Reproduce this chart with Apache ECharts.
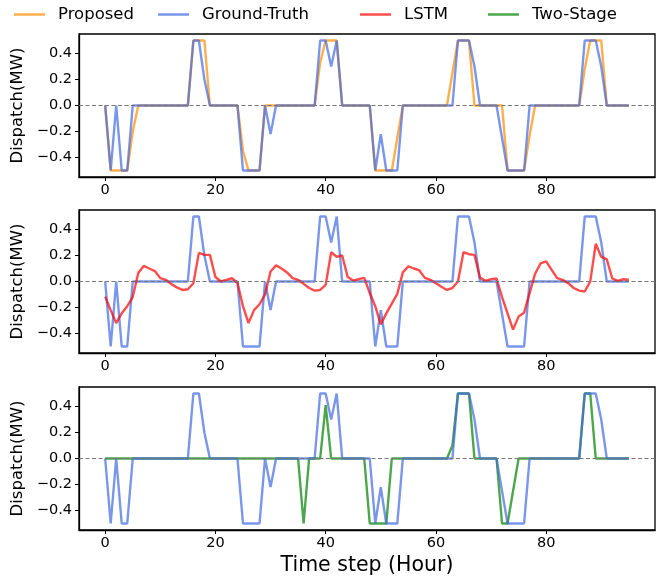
<!DOCTYPE html>
<html>
<head>
<meta charset="utf-8">
<script src="https://cdn.jsdelivr.net/npm/echarts@6/dist/echarts.min.js"></script>
<style>html,body{margin:0;padding:0;background:#fff}#c{width:662px;height:578px}</style>
</head>
<body>
<div id="c"></div>
<script>
const groundTruth = [0,-0.5,0,-0.5,-0.5,0,0,0,0,0, 0,0,0,0,0,0,0.5,0.5,0.2,0, 0,0,0,0,0,-0.5,-0.5,-0.5,-0.5,0, -0.22,0,0,0,0,0,0,0,0,0.5, 0.5,0.3,0.5,0,0,0,0,0,0,-0.5, -0.22,-0.5,-0.5,-0.5,0,0,0,0,0,0, 0,0,0,0,0.5,0.5,0.5,0.3,0,0, 0,0,-0.25,-0.5,-0.5,-0.5,-0.5,0,0,0, 0,0,0,0,0,0,0,0.5,0.5,0.5, 0.3,0,0,0,0,0];
const proposed = [0,-0.5,-0.5,-0.5,-0.5,-0.2,0,0,0,0, 0,0,0,0,0,0,0.5,0.5,0.5,0, 0,0,0,0,0,-0.35,-0.5,-0.5,-0.5,0, 0,0,0,0,0,0,0,0,0,0.33, 0.5,0.5,0.5,0,0,0,0,0,0,-0.5, -0.5,-0.5,-0.5,-0.25,0,0,0,0,0,0, 0,0,0,0.25,0.5,0.5,0.5,0,0,0, 0,0,0,-0.5,-0.5,-0.5,-0.5,-0.23,0,0, 0,0,0,0,0,0,0,0.28,0.5,0.5, 0.5,0,0,0,0,0];
const lstm = [-0.116,-0.22,-0.32,-0.245,-0.19,-0.12,0.065,0.12,0.10,0.08, 0.026,0.013,-0.02,-0.045,-0.065,-0.06,-0.013,0.22,0.205,0.205, 0.035,0,0.013,0.025,-0.01,-0.19,-0.32,-0.22,-0.175,-0.10, 0.077,0.124,0.10,0.07,0.026,0.013,-0.018,-0.05,-0.07,-0.065, -0.026,0.225,0.19,0.2,0.034,0.008,0.018,0.028,-0.09,-0.19, -0.33,-0.245,-0.17,-0.095,0.07,0.116,0.10,0.085,0.028,0.013, -0.013,-0.04,-0.065,-0.05,0,0.225,0.21,0.205,0.03,0.005, 0.018,0.023,-0.12,-0.245,-0.37,-0.27,-0.24,-0.09,0.06,0.14, 0.155,0.09,0.026,0.013,-0.013,-0.05,-0.07,-0.077,0,0.29, 0.19,0.17,0.023,0.005,0.018,0.013];
const twoStage = [0,0,0,0,0,0,0,0,0,0, 0,0,0,0,0,0,0,0,0,0, 0,0,0,0,0,0,0,0,0,0, 0,0,0,0,0,0,-0.5,0,0,0, 0.41,0,0,0,0,0,0,0,-0.5,-0.5, -0.5,-0.5,0,0,0,0,0,0,0,0, 0,0,0,0.1,0.5,0.5,0.5,0,0,0, 0,0,-0.5,-0.5,-0.25,0,0,0,0,0, 0,0,0,0,0,0,0,0.5,0.5,0, 0,0,0,0,0,0];
const xTicks = [0, 20, 40, 60, 80];
const yTicks = [-0.4, -0.2, 0, 0.2, 0.4];

const FONT = 'DejaVu Sans';
const C = {
  prop: 'rgba(255,140,0,0.7)',
  gt: 'rgba(65,105,225,0.7)',
  lstm: 'rgba(255,0,0,0.7)',
  two: 'rgba(0,128,0,0.7)'
};
const toXY = arr => arr.map((v, i) => [i, v]);

const tops = [34, 210, 387];
const grids = tops.map(t => ({left: 79, right: 7, top: t, height: 143, show: true, borderColor: '#000', borderWidth: 1.3, backgroundColor: 'transparent'}));
const xAxes = tops.map((t, i) => ({
  type: 'value', gridIndex: i, min: -4.75, max: 99.75,
  axisLine: {show: true, onZero: false, lineStyle: {color: '#000', width: 1.3}},
  axisTick: {show: true, length: 4, customValues: xTicks, lineStyle: {color: '#000', width: 1}},
  axisLabel: {customValues: xTicks, color: '#000', fontFamily: FONT, fontSize: 14.5, margin: 6},
  splitLine: {show: false},
  name: i === 2 ? 'Time step (Hour)' : '',
  nameLocation: 'middle', nameGap: 25,
  nameTextStyle: {fontFamily: FONT, fontSize: 20.5, color: '#000'}
}));
const yAxes = tops.map((t, i) => ({
  type: 'value', gridIndex: i, min: -0.55, max: 0.55,
  axisLine: {show: true, onZero: false, lineStyle: {color: '#000', width: 1.3}},
  axisTick: {show: true, length: 4, customValues: yTicks, lineStyle: {color: '#000', width: 1}},
  axisLabel: {customValues: yTicks, color: '#000', fontFamily: FONT, fontSize: 14.5, margin: 7,
    formatter: v => (v < 0 ? '\u2212' : '') + Math.abs(v).toFixed(1)},
  splitLine: {show: false},
  name: 'Dispatch(MW)', nameLocation: 'middle', nameGap: 53,
  nameTextStyle: {fontFamily: FONT, fontSize: 16.5, color: '#000'}
}));

function line(name, data, color, gi, z, withZero) {
  const s = {
    name, type: 'line', data: toXY(data), xAxisIndex: gi, yAxisIndex: gi,
    showSymbol: false, symbol: 'none', z,
    lineStyle: {color, width: 2.4}, itemStyle: {color}, emphasis: {disabled: true}
  };
  if (withZero) {
    s.markLine = {silent: true, symbol: 'none', label: {show: false},
      lineStyle: {color: '#777', type: [4, 2.5], width: 1.1},
      data: [{yAxis: 0}]};
  }
  return s;
}

const series = [
  line('Proposed', proposed, C.prop, 0, 2, true),
  line('Ground-Truth', groundTruth, C.gt, 0, 3, false),
  line('Ground-Truth', groundTruth, C.gt, 1, 2, true),
  line('LSTM', lstm, C.lstm, 1, 3, false),
  line('Two-Stage', twoStage, C.two, 2, 2, true),
  line('Ground-Truth', groundTruth, C.gt, 2, 3, false)
];

const legendItems = [['Proposed', 14], ['Ground-Truth', 158], ['LSTM', 360], ['Two-Stage', 488]];
const legends = legendItems.map(([n, x]) => ({
  data: [n], left: x, top: 6, padding: 0, icon: 'rect', itemWidth: 31, itemHeight: 2.5,
  selectedMode: false,
  textStyle: {fontFamily: FONT, fontSize: 16.5, color: '#000', padding: [0, 0, 0, 8]}
}));

const chart = echarts.init(document.getElementById('c'), null, {renderer: 'canvas'});
chart.setOption({
  animation: false,
  backgroundColor: '#fff',
  legend: legends,
  grid: grids,
  xAxis: xAxes,
  yAxis: yAxes,
  series
});
</script>
</body>
</html>
